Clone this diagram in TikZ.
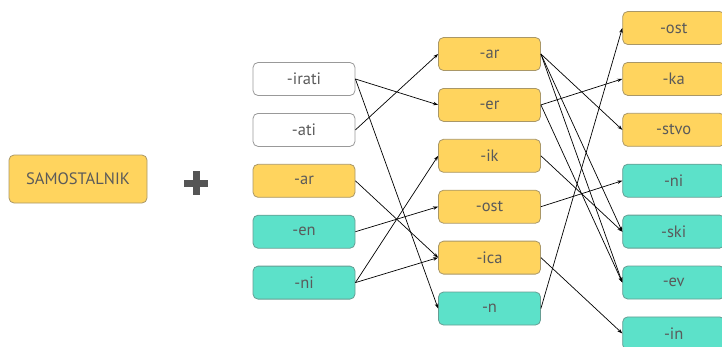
\documentclass[tikz,border=0pt]{standalone}
\usepackage{fontspec}
\setmainfont{PT Sans}
\usetikzlibrary{positioning,arrows.meta}
\definecolor{ylwcol}{HTML}{FFD45E}
\definecolor{tealcol}{HTML}{5CE1C9}
\definecolor{txtcol}{HTML}{5A5A5A}
\definecolor{pluscol}{HTML}{555555}

\begin{document}
\begin{tikzpicture}[x=1pt,y=-1pt,
   font=\fontsize{16.5}{18}\selectfont, text=txtcol,
   sfx/.style={draw,rounded corners=5pt,minimum width=102pt,
              minimum height=33pt,inner sep=0pt,line width=0.8pt},
   wsfx/.style={sfx,fill=white,draw=black!40},
   ysfx/.style={sfx,fill=ylwcol,draw=ylwcol!55!black!75},
   tsfx/.style={sfx,fill=tealcol,draw=tealcol!55!black!75},
   lnk/.style={-{Stealth[length=5pt,width=3.5pt]},line width=0.7pt},
   node distance=17.1pt,
]
\useasboundingbox (0,0) rectangle (722,346);

% ----- left: the noun and the plus
\node[ysfx,minimum width=138pt,minimum height=48pt] (noun) at (78,179) {SAMOSTALNIK};
\draw[pluscol,line width=7pt] (184,183) -- (208,183) (196,171) -- (196,195);

% ----- first suffixes
\node[wsfx] (irati) at (304,79) {-irati};
\node[wsfx,below=of irati] (ati) {-ati};
\node[ysfx,below=of ati] (ar1) {-ar};
\node[tsfx,below=of ar1] (en) {-en};
\node[tsfx,below=of en] (ni1) {-ni};

% ----- second suffixes
\node[ysfx] (ar2) at (489.5,54) {-ar};
\node[ysfx,below=of ar2] (er) {-er};
\node[ysfx,below=of er] (ik) {-ik};
\node[ysfx,below=of ik] (ost2) {-ost};
\node[ysfx,below=of ost2] (ica) {-ica};
\node[tsfx,below=of ica] (n) {-n};

% ----- third suffixes
\node[ysfx] (ost3) at (673.7,28) {-ost};
\node[ysfx,below=of ost3] (ka) {-ka};
\node[ysfx,below=of ka] (stvo) {-stvo};
\node[tsfx,below=of stvo] (ni3) {-ni};
\node[tsfx,below=of ni3] (ski) {-ski};
\node[tsfx,below=of ski] (ev) {-ev};
\node[tsfx,below=of ev] (in) {-in};

% wires
\draw[lnk] (irati.east) -- (er.west);
\draw[lnk] (irati.east) -- (n.west);
\draw[lnk] (ati.east) -- (ar2.west);
\draw[lnk] (ar1.east) -- (ica.west);
\draw[lnk] (en.east) -- (ost2.west);
\draw[lnk] (ni1.east) -- (ik.west);
\draw[lnk] (ni1.east) -- (ica.west);

\draw[lnk] (ar2.east) -- (stvo.west);
\draw[lnk] (ar2.east) -- (ski.west);
\draw[lnk] (ar2.east) -- (ev.west);
\draw[lnk] (er.east) -- (ka.west);
\draw[lnk] (er.east) -- (ev.west);
\draw[lnk] (ik.east) -- (ski.west);
\draw[lnk] (ost2.east) -- (ni3.west);
\draw[lnk] (ica.east) -- (in.west);
\draw[lnk] (n.east) -- (ost3.west);
\end{tikzpicture}
\end{document}
